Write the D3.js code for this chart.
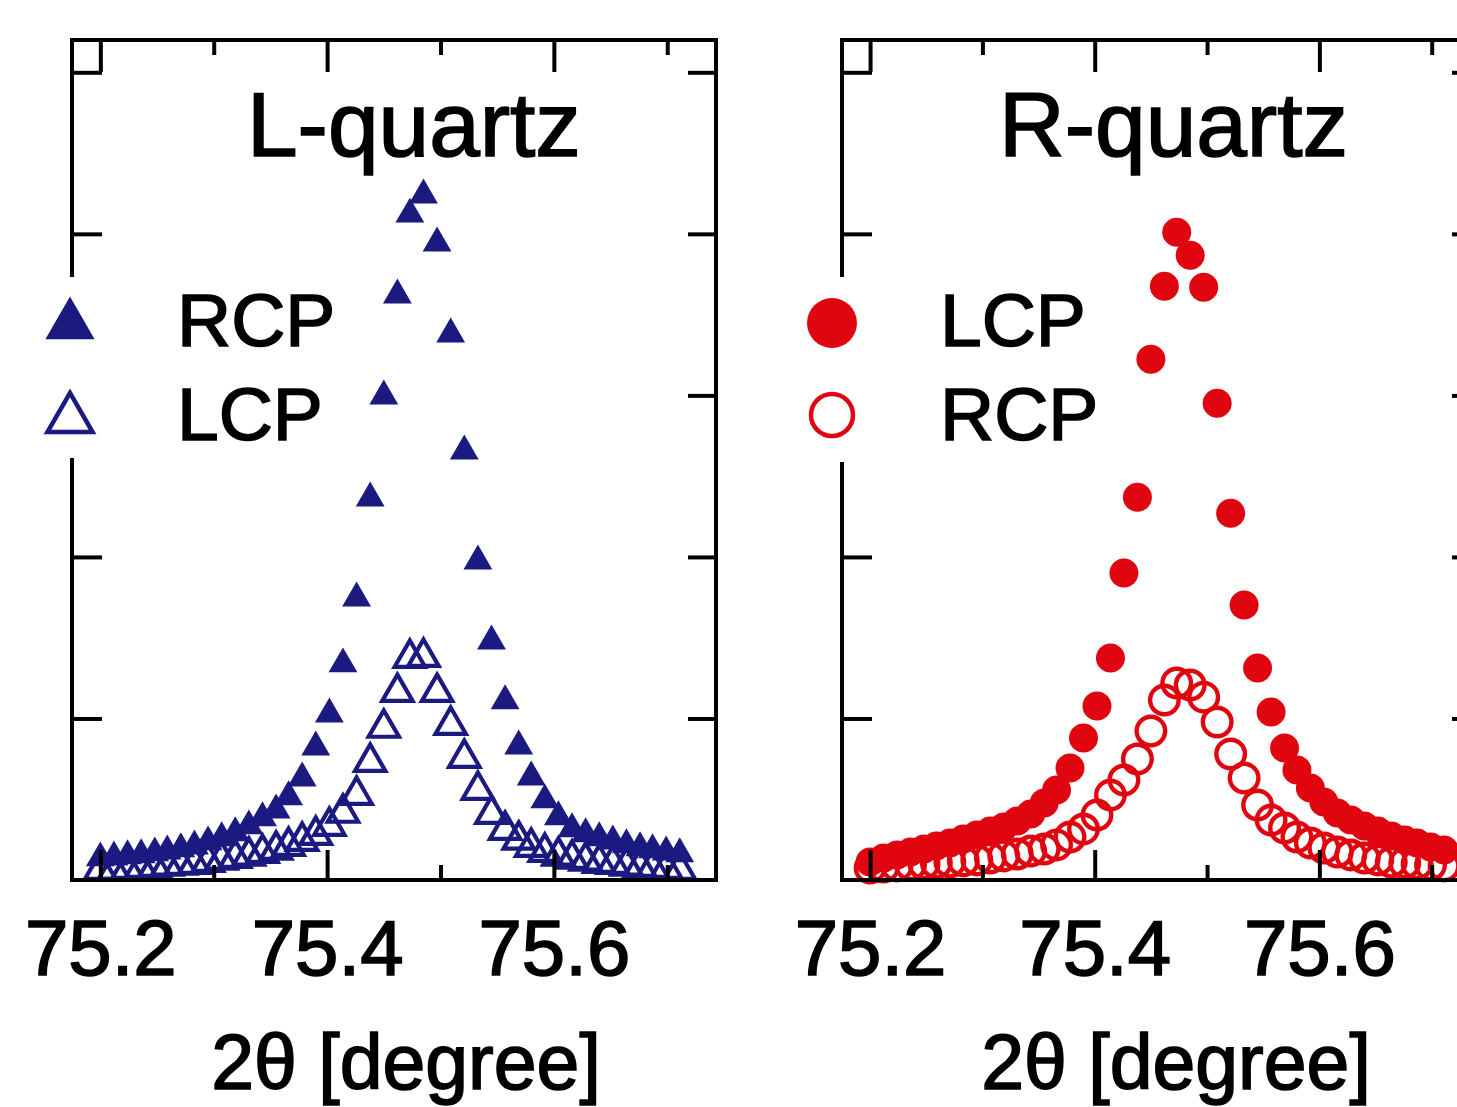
<!DOCTYPE html>
<html>
<head>
<meta charset="utf-8">
<script src="https://cdn.jsdelivr.net/npm/d3@7"></script>
<style>
  html, body { margin: 0; padding: 0; background: #fff; overflow: hidden; }
  svg { display: block; }
  text { font-family: "Liberation Sans", Arial, sans-serif; fill: #000; stroke: #000; stroke-width: 1.6px; }
</style>
</head>
<body>
<script>
// ---------- data ----------
const twoTheta = [75.200, 75.212, 75.224, 75.236, 75.248, 75.259, 75.271, 75.283, 75.295, 75.307,
  75.319, 75.331, 75.343, 75.355, 75.366, 75.378, 75.390, 75.402, 75.414, 75.426,
  75.438, 75.450, 75.462, 75.473, 75.485, 75.497, 75.509, 75.521, 75.533, 75.545,
  75.557, 75.569, 75.580, 75.592, 75.604, 75.616, 75.628, 75.640, 75.652, 75.664,
  75.676, 75.687, 75.699, 75.711];

// L-quartz
const lQuartzRCP = [0.136, 0.142, 0.149, 0.155, 0.167, 0.179, 0.192, 0.210, 0.235, 0.260,
  0.291, 0.334, 0.384, 0.433, 0.514, 0.631, 0.823, 1.027, 1.337, 1.745,
  2.364, 2.995, 3.620, 4.121, 4.239, 3.942, 3.379, 2.655, 1.974, 1.479,
  1.108, 0.829, 0.637, 0.495, 0.390, 0.316, 0.285, 0.260, 0.241, 0.217,
  0.198, 0.186, 0.173, 0.161];
const lQuartzLCP = [0.062, 0.062, 0.068, 0.074, 0.080, 0.087, 0.093, 0.099, 0.111, 0.124,
  0.136, 0.149, 0.167, 0.186, 0.210, 0.241, 0.278, 0.334, 0.415, 0.526,
  0.730, 0.941, 1.163, 1.374, 1.380, 1.163, 0.959, 0.755, 0.557, 0.408,
  0.309, 0.248, 0.204, 0.173, 0.149, 0.130, 0.118, 0.105, 0.099, 0.087,
  0.080, 0.074, 0.068, 0.062];

// R-quartz
const rQuartzLCP = [0.111, 0.136, 0.155, 0.173, 0.192, 0.210, 0.229, 0.254, 0.278, 0.303,
  0.328, 0.365, 0.408, 0.476, 0.557, 0.693, 0.879, 1.077, 1.374, 1.900,
  2.370, 3.224, 3.676, 4.010, 3.868, 3.670, 2.952, 2.271, 1.702, 1.312,
  1.040, 0.817, 0.681, 0.569, 0.483, 0.415, 0.371, 0.334, 0.303, 0.272,
  0.248, 0.229, 0.204, 0.186];
const rQuartzRCP = [0.074, 0.080, 0.087, 0.093, 0.099, 0.105, 0.111, 0.118, 0.124, 0.136,
  0.149, 0.161, 0.179, 0.192, 0.217, 0.266, 0.316, 0.402, 0.526, 0.619,
  0.749, 0.922, 1.114, 1.219, 1.207, 1.132, 0.978, 0.780, 0.631, 0.464,
  0.371, 0.322, 0.266, 0.229, 0.198, 0.173, 0.155, 0.136, 0.124, 0.111,
  0.105, 0.099, 0.093, 0.087];

const majorTicks = [75.2, 75.4, 75.6];
const minorTicks = [75.3, 75.5, 75.7];
const yTicks = [1, 2, 3, 4, 5];
const panelTitles = ["L-quartz", "R-quartz"];
const xAxisTitle = "2θ [degree]";
const leftLegend = ["RCP", "LCP"];
const rightLegend = ["LCP", "RCP"];

// ---------- layout ----------
const W = 1457, H = 1107;
const NAVY = "#1b1a80", RED = "#e0060f";
const svg = d3.select("body").append("svg").attr("width", W).attr("height", H);

const plotTop = 40, plotBottom = 880;
const y = d3.scaleLinear().domain([0, 5.2]).range([plotBottom, plotTop]);
const xDomain = [75.175, 75.743];

function panel(opts) {
  const x = d3.scaleLinear().domain(xDomain).range([opts.x0, opts.x1]);
  const g = svg.append("g");

  // data markers
  const sym = opts.symbol;
  g.append("g").selectAll("path").data(twoTheta.map((t, i) => [t, opts.filled[i]]))
    .join("path")
    .attr("transform", d => `translate(${x(d[0])},${y(d[1])})`)
    .attr("d", d3.symbol().type(sym).size(opts.filledSize))
    .attr("fill", opts.color);
  g.append("g").selectAll("path").data(twoTheta.map((t, i) => [t, opts.open[i]]))
    .join("path")
    .attr("transform", d => `translate(${x(d[0])},${y(d[1])})`)
    .attr("d", d3.symbol().type(sym).size(opts.openSize))
    .attr("fill", "none").attr("stroke", opts.color).attr("stroke-width", opts.openStroke);

  // frame
  g.append("rect").attr("x", opts.x0).attr("y", plotTop)
    .attr("width", opts.x1 - opts.x0).attr("height", plotBottom - plotTop)
    .attr("fill", "none").attr("stroke", "#000").attr("stroke-width", 4);

  const styleAxis = sel => {
    sel.select(".domain").remove();
    sel.selectAll(".tick line").attr("stroke", "#000").attr("stroke-width", 4);
  };
  // bottom major with labels
  g.append("g").attr("transform", `translate(0,${plotBottom})`)
    .call(d3.axisBottom(x).tickValues(majorTicks).tickSize(-30).tickPadding(40).tickFormat(d3.format(".1f")))
    .call(styleAxis)
    .call(s => s.selectAll(".tick text").attr("font-size", 78).attr("fill", "#000")
      .attr("font-family", "Liberation Sans, Arial, sans-serif"));
  g.append("g").attr("transform", `translate(0,${plotBottom})`)
    .call(d3.axisBottom(x).tickValues(minorTicks).tickSize(-15).tickFormat(""))
    .call(styleAxis);
  // top
  g.append("g").attr("transform", `translate(0,${plotTop})`)
    .call(d3.axisTop(x).tickValues(majorTicks).tickSize(-32).tickFormat(""))
    .call(styleAxis);
  g.append("g").attr("transform", `translate(0,${plotTop})`)
    .call(d3.axisTop(x).tickValues(minorTicks).tickSize(-15).tickFormat(""))
    .call(styleAxis);
  // left / right
  g.append("g").attr("transform", `translate(${opts.x0},0)`)
    .call(d3.axisLeft(y).tickValues(yTicks).tickSize(-30).tickFormat(""))
    .call(styleAxis);
  g.append("g").attr("transform", `translate(${opts.x1},0)`)
    .call(d3.axisRight(y).tickValues(yTicks).tickSize(-28).tickFormat(""))
    .call(styleAxis);

  // title
  g.append("text").attr("x", opts.titleX).attr("y", 156)
    .attr("font-size", 91).text(opts.title);

  // legend (white box hides part of the left frame)
  g.append("rect").attr("x", opts.legX - 40).attr("y", 277)
    .attr("width", 300).attr("height", opts.legH).attr("fill", "#fff");
  g.append("path").attr("transform", `translate(${opts.legX},${opts.legY1})`)
    .attr("d", d3.symbol().type(sym).size(opts.legFilledSize)).attr("fill", opts.color);
  g.append("path").attr("transform", `translate(${opts.legX},${opts.legY2})`)
    .attr("d", d3.symbol().type(sym).size(opts.legOpenSize))
    .attr("fill", "none").attr("stroke", opts.color).attr("stroke-width", 4.5);
  g.append("text").attr("x", opts.legTextX).attr("y", 346).attr("font-size", 75).text(opts.legend[0]);
  g.append("text").attr("x", opts.legTextX).attr("y", 440).attr("font-size", 75).text(opts.legend[1]);

  // x axis title
  g.append("text").attr("x", opts.axisTitleX).attr("y", 1089)
    .attr("text-anchor", "middle").attr("font-size", 77).text(xAxisTitle);
}

panel({
  x0: 72, x1: 716, color: NAVY, symbol: d3.symbolTriangle,
  filled: lQuartzRCP, open: lQuartzLCP, filledSize: 360, openSize: 400, openStroke: 4.2,
  title: panelTitles[0], titleX: 247,
  legX: 70, legY1: 325, legY2: 419, legFilledSize: 1050, legOpenSize: 880, legH: 181,
  legTextX: 177, legend: leftLegend, axisTitleX: 406
});
panel({
  x0: 842, x1: 1480, color: RED, symbol: d3.symbolCircle,
  filled: rQuartzLCP, open: rQuartzRCP, filledSize: 660, openSize: 640, openStroke: 4.4,
  title: panelTitles[1], titleX: 999,
  legX: 832, legY1: 323, legY2: 415, legFilledSize: 1960, legOpenSize: 1385, legH: 185,
  legTextX: 940, legend: rightLegend, axisTitleX: 1176
});
</script>
</body>
</html>
